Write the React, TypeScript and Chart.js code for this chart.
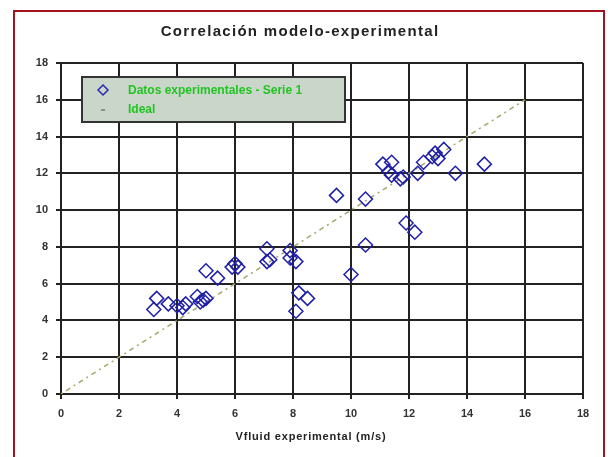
import React, { useEffect, useRef } from "react";
import { Chart, registerables } from "chart.js";

Chart.register(...registerables);

const titleText = "Correlación modelo-experimental";
const xAxisTitle = "Vfluid experimental (m/s)";
const seriesLabels = ["Datos experimentales - Serie 1", "Ideal"];

const expX = [3.2, 3.3, 3.7, 4.0, 4.2, 4.3, 4.7, 4.8, 4.9, 5.0, 5.0, 5.4, 5.9, 6.0, 6.1, 7.1, 7.1, 7.2, 7.9, 7.9, 8.1, 8.1, 8.2, 8.5, 9.5, 10.0, 10.5, 10.5, 11.1, 11.3, 11.4, 11.4, 11.7, 11.8, 11.9, 12.2, 12.3, 12.5, 12.8, 12.9, 13.0, 13.2, 13.6, 14.6];
const expY = [4.6, 5.2, 4.9, 4.8, 4.7, 4.9, 5.3, 5.0, 5.1, 5.2, 6.7, 6.3, 6.9, 7.1, 6.9, 7.9, 7.2, 7.3, 7.8, 7.4, 7.2, 4.5, 5.5, 5.2, 10.8, 6.5, 10.6, 8.1, 12.5, 12.1, 12.6, 11.9, 11.7, 11.8, 9.3, 8.8, 12.0, 12.6, 12.9, 13.1, 12.8, 13.3, 12.0, 12.5];
const idealX = [0, 16];
const idealY = [0, 16];
const tickValues = [0, 2, 4, 6, 8, 10, 12, 14, 16, 18];

const overlayPlugin = {
  id: "overlay",
  afterDraw(chart: any) {
    const ctx = chart.ctx;
    ctx.save();
    // title
    ctx.font = "bold 15px 'Liberation Sans', Arial, sans-serif";
    ctx.fillStyle = "#222";
    ctx.textAlign = "center";
    ctx.textBaseline = "middle";
    (ctx as any).letterSpacing = "1.3px";
    ctx.fillText(titleText, 300, 32);
    // x axis title
    ctx.font = "bold 11px 'Liberation Sans', Arial, sans-serif";
    (ctx as any).letterSpacing = "0.8px";
    ctx.fillText(xAxisTitle, 311, 437);
    (ctx as any).letterSpacing = "0px";
    // legend box
    const lx = 82, ly = 77, lw = 263, lh = 45;
    ctx.fillStyle = "#c9d6c9";
    ctx.fillRect(lx, ly, lw, lh);
    ctx.strokeStyle = "#333";
    ctx.lineWidth = 2;
    ctx.strokeRect(lx, ly, lw, lh);
    // symbol 1
    ctx.strokeStyle = "#2a2ab0";
    ctx.lineWidth = 1.5;
    ctx.beginPath();
    ctx.moveTo(103, 85); ctx.lineTo(108, 90); ctx.lineTo(103, 95); ctx.lineTo(98, 90); ctx.closePath();
    ctx.stroke();
    // symbol 2
    ctx.strokeStyle = "#777";
    ctx.lineWidth = 1.5;
    ctx.beginPath();
    ctx.moveTo(101, 110); ctx.lineTo(105, 110);
    ctx.stroke();
    ctx.font = "bold 12px 'Liberation Sans', Arial, sans-serif";
    ctx.textAlign = "left";
    ctx.fillStyle = "#22c422";
    ctx.fillText(seriesLabels[0], 128, 91);
    ctx.fillText(seriesLabels[1], 128, 110);
    ctx.restore();
  },
};

export default function App() {
  const ref = useRef<HTMLCanvasElement>(null);
  useEffect(() => {
    if (!ref.current) return;
    const chart = new Chart(ref.current, {
      type: "scatter",
      data: {
        datasets: [
          {
            label: seriesLabels[0],
            data: expX.map((x, i) => ({ x, y: expY[i] })),
            pointStyle: "rectRot",
            pointRadius: 7,
            borderColor: "#1f1fa8",
            backgroundColor: "rgba(0,0,0,0)",
            borderWidth: 1.5,
            showLine: false,
          },
          {
            label: seriesLabels[1],
            data: idealX.map((x, i) => ({ x, y: idealY[i] })),
            showLine: true,
            pointRadius: 0,
            borderColor: "#a8a66a",
            borderWidth: 1.5,
            borderDash: [2, 4, 5, 4],
          },
        ],
      },
      options: {
        animation: false,
        responsive: false,
        layout: { padding: { left: 0, right: 25, top: 63, bottom: 0 } },
        plugins: { legend: { display: false }, title: { display: false }, tooltip: { enabled: false } },
        scales: {
          x: {
            type: "linear",
            min: 0,
            max: 18,
            afterBuildTicks: (s: any) => { s.ticks = tickValues.map((v) => ({ value: v })); },
            afterFit: (s: any) => { s.height = 63; },
            grid: { color: "#222", lineWidth: 2, tickLength: 5, drawTicks: true },
            border: { color: "#222", width: 2 },
            ticks: { color: "#333", font: { size: 11, weight: "bold", family: "'Liberation Sans', Arial" }, padding: 8 },
            title: { display: false },
          },
          y: {
            type: "linear",
            min: 0,
            max: 18,
            afterBuildTicks: (s: any) => { s.ticks = tickValues.map((v) => ({ value: v })); },
            afterFit: (s: any) => { s.width = 61; },
            grid: { color: "#222", lineWidth: 2, tickLength: 5, drawTicks: true },
            border: { color: "#222", width: 2 },
            ticks: { color: "#333", font: { size: 11, weight: "bold", family: "'Liberation Sans', Arial" }, padding: 8 },
          },
        },
      },
      plugins: [overlayPlugin],
    } as any);
    return () => chart.destroy();
  }, []);
  return (
    <div style={{ position: "fixed", left: 0, top: 0, width: 608, height: 457, background: "#fff", overflow: "hidden" }}>
      <canvas ref={ref} width={608} height={457} style={{ position: "absolute", left: 0, top: 0, width: 608, height: 457 }} />
      <div style={{ position: "absolute", left: 13, top: 10, width: 588, height: 460, borderLeft: "2px solid #a3121e", borderTop: "2px solid #a3121e", borderRight: "2px solid #a3121e", pointerEvents: "none" }} />
    </div>
  );
}
